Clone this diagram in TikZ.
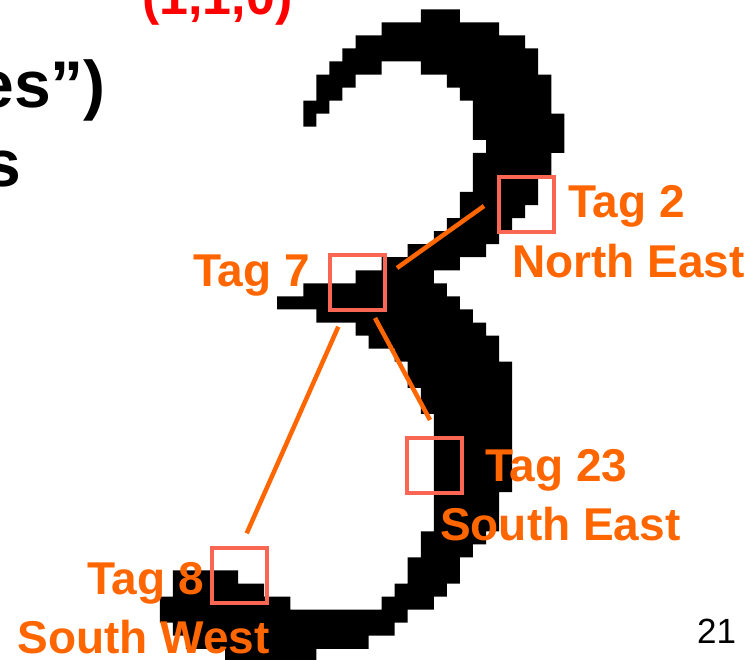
\documentclass[tikz,border=0pt]{standalone}
\usepackage{fontspec}
\setmainfont{Liberation Sans}
\definecolor{tagorange}{RGB}{255,102,0}
\definecolor{boxcol}{RGB}{250,102,84}
\definecolor{hdrred}{RGB}{255,0,0}
\begin{document}
\begin{tikzpicture}[x=1pt,y=-1pt,
  tagbox/.style={draw=boxcol, line width=4pt, minimum size=55pt, inner sep=0pt},
  lbl/.style={text=tagorange, font=\bfseries\fontsize{46}{50}\selectfont, inner sep=0pt},
  bodytxt/.style={text=black, font=\bfseries\fontsize{66}{70}\selectfont, inner sep=0pt},
  link/.style={draw=tagorange, line width=4.5pt}]
\useasboundingbox (0,0) rectangle (749,660);
\clip (0,0) rectangle (749,660);
\fill[white] (0,0) rectangle (749,660);

% pixelated digit
\begin{scope}[shift={(303.3,9.3)}, x=13.05pt, y=-13.05pt]
\fill[black] \foreach \rw/\ca/\cb in {
  0/9/12, 1/6/15, 2/4/17, 3/3/18,
  4/2/6, 4/9/18, 5/1/4, 5/11/19, 6/1/3, 6/12/19,
  7/0/2, 7/13/19, 8/0/1, 8/13/20, 9/13/20, 10/14/20,
  11/13/19, 12/13/19, 13/13/18, 14/12/18, 15/12/17,
  16/11/16, 17/10/15, 18/8/14, 19/6/12, 20/4/10,
  21/0/11, 22/-2/12, 23/1/13, 24/4/14, 25/5/15, 26/7/15,
  27/8/16, 28/8/16, 29/9/16, 30/9/16,
  31/10/16, 32/10/16, 33/10/16, 34/10/16, 35/10/16, 36/10/16,
  37/10/15, 38/10/15, 39/10/15, 40/9/14, 41/9/13, 42/8/12,
  43/-10/-5, 43/8/12, 44/-10/-3, 44/7/11, 45/-11/-1, 45/6/10,
  46/-11/8, 47/-10/7, 48/-9/5, 49/-6/1}
  {(\ca,\rw) rectangle (\cb,\rw+1)};
\end{scope}

% slide text fragments
\node[text=hdrred, font=\bfseries\fontsize{52}{56}\selectfont, inner sep=0pt, anchor=base west] (hdr) at (142,15) {(1,1,0)};
\node[bodytxt, anchor=base east] (body1) at (106,108) {es”)};
\node[bodytxt, anchor=base east] (body2) at (21,187) {s};
\node[text=black, font=\fontsize{35}{40}\selectfont, inner sep=0pt, anchor=base west] (pagenum) at (697,643) {21};

% tag boxes
\node[tagbox] (b2) at (526.35,204.15) {};
\node[tagbox] (b7) at (357.15,282.7) {};
\node[tagbox] (b23) at (434.15,465) {};
\node[tagbox] (b8) at (239.15,575) {};

% connector ends
\coordinate (e7a) at (397,268);
\coordinate (e2) at (484,206);
\coordinate (e7b) at (375,318);
\coordinate (e23) at (430,420);
\coordinate (e7c) at (338.3,326.7);
\coordinate (e8) at (246.7,533.3);
\draw[link] (e7a) -- (e2);
\draw[link] (e7b) -- (e23);
\draw[link] (e7c) -- (e8);

% labels
\node[lbl, anchor=base west] (t2) at (568,218) {Tag 2};
\node[lbl, anchor=base west] (d2) at (512,277) {North East};
\node[lbl, anchor=base east] (t7) at (310,287) {Tag 7};
\node[lbl, anchor=base west] (t23) at (485,481) {Tag 23};
\node[lbl, anchor=base west] (d23) at (440,540) {South East};
\node[lbl, anchor=base east] (t8) at (204,594) {Tag 8};
\node[lbl, anchor=base east] (d8) at (270,653) {South West};
\end{tikzpicture}
\end{document}
